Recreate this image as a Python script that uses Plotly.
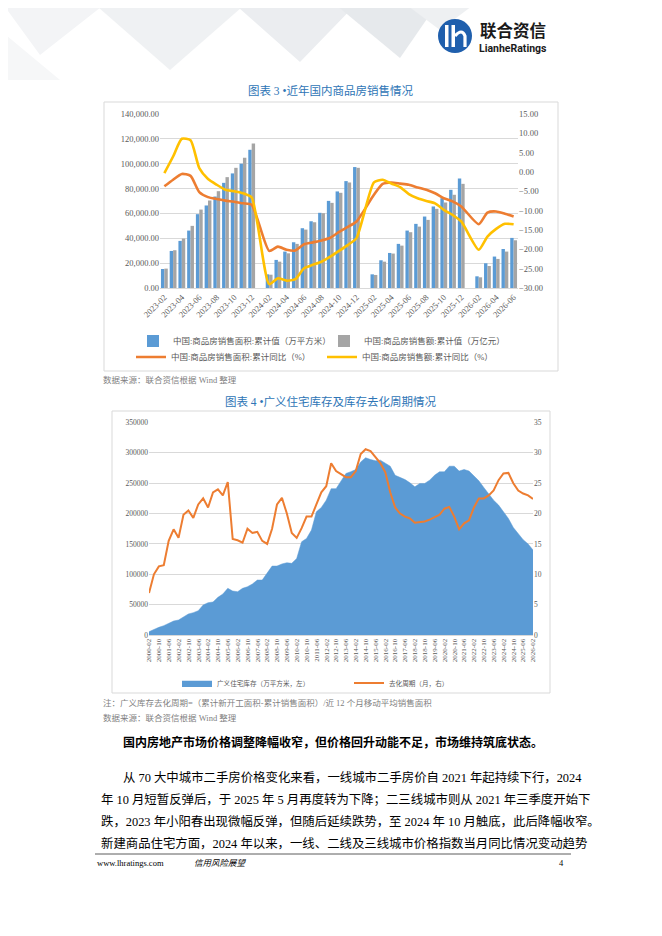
import pandas as pd
import plotly.graph_objects as go

# ---- chart 3: sales of commercial housing (monthly, Jan merged into Feb) ----
months1 = pd.date_range('2023-02-01', '2026-06-01', freq='MS').strftime('%Y-%m').tolist()
area_sales = [15300, 29800, 37900, 46200, 59400, 66400, 73600, 84600, 92200, 100000, 111200, None,
              11000, 22600, 29300, 36800, 48100, 53700, 60500, 70100, 77700, 86000, 97300, None,
              11000, 22300, 28200, 35500, 46200, 51600, 57500, 65600, 72300, 79000, 88100, None,
              9400, 19900, 25300, 31400, 40300]
amount_sales = [15600, 30400, 39800, 50000, 63100, 70400, 77900, 89200, 96700, 104800, 116300, None,
                10700, 21200, 27900, 35500, 47000, 52900, 60200, 68500, 76600, 84900, 96700, None,
                10500, 21200, 27700, 34100, 44900, 49400, 54800, 63700, 68800, 75000, 83800, None,
                8600, 17700, 23400, 29300, 38400]
area_yoy = [-3.7, -2.0, -0.5, -1.0, -5.2, -6.5, -7.0, -7.4, -7.7, -8.1, -8.5, None,
            -20.4, -19.3, -20.1, -20.3, -18.7, -18.2, -17.7, -17.0, -15.5, -14.2, -12.8, None,
            -5.9, -3.1, -2.7, -3.0, -3.3, -4.0, -4.6, -5.5, -6.8, -7.6, -8.9, None,
            -13.5, -10.5, -10.2, -10.8, -11.5]
amount_yoy = [-0.3, 4.0, 8.6, 8.2, 1.0, -1.8, -3.3, -4.6, -5.0, -5.5, -6.6, None,
              -29.0, -27.5, -28.1, -27.7, -24.9, -24.0, -23.2, -21.9, -20.4, -18.9, -17.1, None,
              -2.7, -2.0, -3.0, -3.9, -5.7, -6.8, -7.5, -8.1, -9.8, -11.1, -12.8, None,
              -20.1, -16.7, -14.7, -13.4, -13.5]

# ---- chart 4: broad housing inventory and destocking cycle (read every 4 months) ----
months2 = pd.date_range('2000-02-01', periods=79, freq='4MS').strftime('%Y-%m').tolist()
stock = [5500, 9300, 12600, 15400, 19200, 23000, 24700, 29000, 34600, 36800,
         40000, 49400, 53200, 54300, 62000, 67500, 76800, 72400, 71300, 76800,
         79500, 84000, 90500, 90500, 101500, 113500, 113500, 117000, 119000, 118000,
         126000, 153600, 159000, 172800, 203000, 210000, 222000, 241000, 241000, 254000,
         266000, 269000, 272600, 285000, 292000, 289000, 287000, 288000, 282500, 278000,
         263000, 259500, 256000, 250700, 244000, 249600, 249600, 255000, 263000, 268800,
         268800, 278000, 278000, 270000, 272600, 270000, 261700, 254000, 243000, 233000,
         222000, 214000, 203000, 192000, 177000, 166000, 157000, 150000, 140000]
cycle = [6.9, 10.0, 11.3, 11.5, 15.5, 17.4, 16.0, 19.8, 20.5, 19.3,
         21.5, 22.5, 21.0, 23.5, 24.0, 23.0, 25.2, 15.8, 15.6, 15.2,
         17.5, 16.8, 17.0, 15.5, 15.0, 17.5, 21.5, 22.6, 20.0, 16.8,
         16.0, 17.6, 19.5, 19.5, 21.5, 23.5, 24.5, 28.3, 27.0, 26.5,
         26.0, 26.0, 27.0, 29.8, 30.6, 30.3, 29.3, 28.3, 26.8, 23.5,
         21.0, 20.0, 19.5, 19.2, 18.5, 18.6, 18.7, 19.0, 19.4, 19.8,
         20.8, 21.1, 19.5, 17.4, 18.4, 18.9, 21.0, 22.5, 22.5, 23.0,
         23.8, 25.5, 26.6, 26.7, 25.0, 23.8, 23.3, 23.0, 22.4]

body_lines = [
    '从 70 大中城市二手房价格变化来看，一线城市二手房价自 2021 年起持续下行，2024',
    '年 10 月短暂反弹后，于 2025 年 5 月再度转为下降；二三线城市则从 2021 年三季度开始下',
    '跌，2023 年小阳春出现微幅反弹，但随后延续跌势，至 2024 年 10 月触底，此后降幅收窄。',
    '新建商品住宅方面，2024 年以来，一线、二线及三线城市价格指数当月同比情况变动趋势',
]

W, H = 662, 936
OFF = 8  # the page body margin pushes the figure 8px right and down
FONT = 'Liberation Serif, Noto Sans CJK SC'
CJK = 'Noto Sans CJK SC'
GREY = '#595959'


def px(x):
    return (x - OFF) / W


def py(y):
    return 1 - (y - OFF) / H


fig = go.Figure()

fig.add_trace(go.Bar(x=months1, y=area_sales, name='中国:商品房销售面积:累计值（万平方米）',
                     marker_color='#5B9BD5', xaxis='x', yaxis='y', legend='legend'))
fig.add_trace(go.Bar(x=months1, y=amount_sales, name='中国:商品房销售额:累计值（万亿元）',
                     marker_color='#A5A5A5', xaxis='x', yaxis='y', legend='legend'))
fig.add_trace(go.Scatter(x=months1, y=area_yoy, name='中国:商品房销售面积:累计同比（%）',
                         mode='lines', connectgaps=True,
                         line=dict(color='#ED7D31', width=2.6, shape='spline', smoothing=0.6),
                         xaxis='x', yaxis='y2', legend='legend2'))
fig.add_trace(go.Scatter(x=months1, y=amount_yoy, name='中国:商品房销售额:累计同比（%）',
                         mode='lines', connectgaps=True,
                         line=dict(color='#FFC000', width=2.6, shape='spline', smoothing=0.6),
                         xaxis='x', yaxis='y2', legend='legend2'))

fig.add_trace(go.Scatter(x=months2, y=stock, name='广义住宅库存（万平方米，左）',
                         mode='lines', fill='tozeroy', fillcolor='#5B9BD5',
                         line=dict(color='#5B9BD5', width=0.5),
                         xaxis='x3', yaxis='y3', legend='legend3'))
fig.add_trace(go.Scatter(x=months2, y=cycle, name='去化周期（月，右）',
                         mode='lines', line=dict(color='#ED7D31', width=2),
                         xaxis='x3', yaxis='y4', legend='legend3'))

tick_small = dict(size=8.5, color=GREY, family=FONT)

legend_common = dict(orientation='h', xanchor='left', yanchor='middle',
                     bgcolor='rgba(0,0,0,0)', itemwidth=30, tracegroupgap=0,
                     entrywidthmode='pixels', itemclick=False)

# background pattern in the header
bg_tris = [
    ([(0, 0), (110, 0), (40, 55)], '#F3F4F6'),
    ([(90, 0), (250, 0), (170, 70)], '#EFF1F3'),
    ([(230, 0), (360, 0), (300, 62)], '#EBEDF0'),
    ([(330, 0), (440, 0), (400, 58)], '#E6E9EC'),
    ([(400, 0), (480, 0), (440, 30)], '#EEF0F2'),
    ([(0, 30), (60, 80), (0, 80)], '#F6F7F8'),
]
shapes = []
for pts, col in bg_tris:
    path = 'M ' + ' L '.join(f'{px(a)} {py(b)}' for a, b in pts) + ' Z'
    shapes.append(dict(type='path', xref='paper', yref='paper', path=path,
                       fillcolor=col, line=dict(width=0), layer='below'))

# logo
shapes.append(dict(type='circle', xref='paper', yref='paper',
                   x0=px(438), x1=px(472), y0=py(53), y1=py(19),
                   fillcolor='#1F5FAD', line=dict(width=0)))
for x0, x1 in [(445, 448.5), (451.5, 455)]:
    shapes.append(dict(type='rect', xref='paper', yref='paper',
                       x0=px(x0), x1=px(x1), y0=py(47), y1=py(25),
                       fillcolor='white', line=dict(width=0)))
shapes.append(dict(type='path', xref='paper', yref='paper',
                   path=f'M {px(455)} {py(36)} Q {px(462)} {py(28)} {px(465)} {py(36)} L {px(465)} {py(47)}',
                   line=dict(color='white', width=3.2)))

# chart frames
shapes.append(dict(type='rect', xref='paper', yref='paper', x0=px(104), x1=px(558),
                   y0=py(371), y1=py(102), line=dict(color='#D9D9D9', width=1)))
shapes.append(dict(type='rect', xref='paper', yref='paper', x0=px(112), x1=px(550),
                   y0=py(693), y1=py(411), line=dict(color='#D9D9D9', width=1)))
# footer rule
shapes.append(dict(type='line', xref='paper', yref='paper', x0=px(95), x1=px(571),
                   y0=py(854), y1=py(854), line=dict(color='#333333', width=0.8)))


def note(x, y, text, size=9, color='#7F7F7F', anchor='left', family=FONT, bold=False):
    if bold:
        text = '<b>' + text + '</b>'
    return dict(x=px(x), y=py(y), xref='paper', yref='paper', text=text, showarrow=False,
                xanchor=anchor, yanchor='middle', font=dict(size=size, color=color, family=family))


annotations = [
    note(478, 29.5, '联合资信', size=16.5, color='#1A1A1A', family=CJK, bold=True),
    note(477, 49, 'LianheRatings', size=10.5, color='#1A1A1A', family='Roboto', bold=True),
    note(331, 90, '图表 3 •近年国内商品房销售情况', size=11.5, color='#2E75B6', anchor='center'),
    note(101, 380, '数据来源：联合资信根据 Wind 整理', size=8.5),
    note(331, 401, '图表 4 •广义住宅库存及库存去化周期情况', size=11.5, color='#2E75B6', anchor='center'),
    note(101, 703, '注：广义库存去化周期=（累计新开工面积-累计销售面积）/近 12 个月移动平均销售面积', size=8.5),
    note(101, 718, '数据来源：联合资信根据 Wind 整理', size=8.5),
    note(121, 741, '国内房地产市场价格调整降幅收窄，但价格回升动能不足，市场维持筑底状态。',
         size=12, color='#000000', family=CJK, bold=True),
    note(95, 863, 'www.lhratings.com', size=8.5, color='#000000'),
    note(192, 863, '<i>信用风险展望</i>', size=8.5, color='#000000'),
    note(566, 863, '4', size=8.5, color='#000000', anchor='right'),
]
for i, line in enumerate(body_lines):
    annotations.append(note(121 if i == 0 else 99, 777 + 22 * i, line, size=12.4, color='#000000'))

fig.update_layout(
    template='none',
    width=W, height=H, margin=dict(l=0, r=0, t=0, b=0, pad=0, autoexpand=False),
    paper_bgcolor='white', plot_bgcolor='white',
    font=dict(family=FONT, color=GREY),
    barmode='group', bargap=0.22, bargroupgap=0,
    xaxis=dict(domain=[px(160), px(518)], anchor='y', type='category', automargin=False,
               range=[-0.5, len(months1) - 0.5], tickvals=months1[::2], tickangle=-45,
               tickfont=tick_small, showgrid=False, showline=True, linecolor='#D9D9D9',
               ticks='', zeroline=False),
    yaxis=dict(domain=[py(288), py(114)], anchor='x', range=[0, 140000], dtick=20000,
               automargin=False, tickformat=',.2f', tickfont=tick_small, showgrid=True,
               gridcolor='#D9D9D9', zeroline=False, ticks='', showline=False),
    yaxis2=dict(overlaying='y', side='right', anchor='x', range=[-30, 15], dtick=5,
                automargin=False, tickformat='.2f', tickfont=tick_small, showgrid=False,
                zeroline=False, ticks='', showline=False),
    xaxis3=dict(domain=[px(149), px(533)], anchor='y3', type='category', automargin=False,
                range=[0, len(months2) - 1], tickvals=months2[::2], tickangle=-90,
                tickfont=dict(size=7, color=GREY, family=FONT), showgrid=False,
                showline=True, linecolor='#D9D9D9', ticks='', zeroline=False),
    yaxis3=dict(domain=[py(635), py(422.5)], anchor='x3', range=[0, 350000], dtick=50000,
                automargin=False, tickformat='d', tickfont=dict(size=7.5, color=GREY, family=FONT),
                showgrid=True, gridcolor='#D9D9D9', zeroline=False, ticks='', showline=False),
    yaxis4=dict(overlaying='y3', side='right', anchor='x3', range=[0, 35], dtick=5,
                automargin=False, tickfont=dict(size=7.5, color=GREY, family=FONT),
                showgrid=False, zeroline=False, ticks='', showline=False),
    legend=dict(x=px(133), y=py(341), entrywidth=146, font=dict(size=8.5, color=GREY),
                **legend_common),
    legend2=dict(x=px(131), y=py(357), entrywidth=146, font=dict(size=8.5, color=GREY),
                 **legend_common),
    legend3=dict(x=px(177), y=py(683), entrywidth=127, font=dict(size=6.6, color=GREY),
                 **legend_common),
    shapes=shapes,
    annotations=annotations,
)

fig.write_html('out.html')
